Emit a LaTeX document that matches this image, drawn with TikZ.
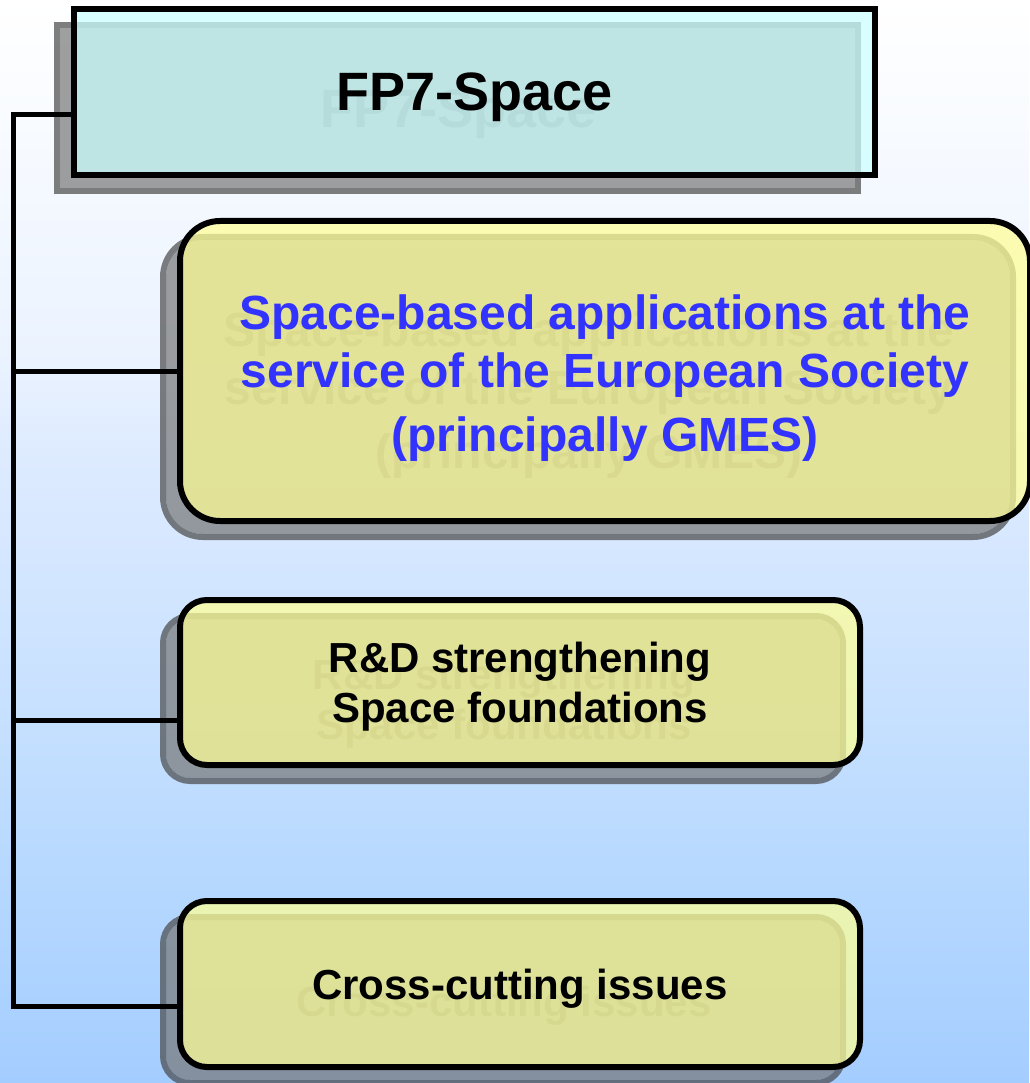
\documentclass[tikz,border=0pt]{standalone}
\usepackage{fontspec}
\setmainfont{Liberation Sans}
\definecolor{bgA}{RGB}{164,205,255}
\definecolor{bgB}{RGB}{180,215,255}
\definecolor{bgC}{RGB}{200,225,255}
\definecolor{bgD}{RGB}{222,235,255}
\definecolor{bgE}{RGB}{235,243,255}
\definecolor{bgF}{RGB}{255,255,255}
\definecolor{shfill}{RGB}{119,119,119}
\definecolor{shring}{RGB}{72,72,72}
\definecolor{tealfill}{RGB}{203,255,255}
\definecolor{yelfill}{RGB}{255,255,150}
\definecolor{bluetext}{RGB}{51,51,255}
\pgfdeclareverticalshading{bgshade}{100bp}{color(0bp)=(bgA); color(25bp)=(bgA); color(33.45bp)=(bgB); color(42.7bp)=(bgC); color(54.2bp)=(bgD); color(58.8bp)=(bgE); color(75bp)=(bgF); color(100bp)=(bgF)}
\newcommand{\boxtwotext}{\rule{0pt}{48pt}Space-based applications at the\\service of the European Society\\[6pt](principally GMES)}
\newcommand{\boxthreetext}{\rule{0pt}{38pt}R\&D strengthening\\ Space foundations}
\begin{document}
\begin{tikzpicture}[x=1pt,y=-1pt,
  shadowring/.style={draw=shring, draw opacity=.7, line width=6pt},
  shadowfill/.style={fill=shfill, fill opacity=.7},
  flatbox/.style={rectangle, draw=black, line width=6pt, fill=tealfill, fill opacity=.726, text opacity=1, inner sep=0pt},
  roundbox/.style={rectangle, rounded corners=#1, draw=black, line width=6pt, fill=yelfill, fill opacity=.726, text opacity=1, inner sep=0pt, align=center},
  ghost/.style={inner sep=0pt, align=center, text=black, text opacity=.2},
  fonttop/.style={font=\bfseries\fontsize{54}{60}\selectfont, text depth=0pt},
  fontbig/.style={font=\bfseries\fontsize{48}{58}\selectfont},
  fontmid/.style={font=\bfseries\fontsize{42}{50}\selectfont},
  conn/.style={draw=black, line width=5pt, line join=miter}
]
\useasboundingbox (0,0) rectangle (1029,1083);
\shade[shading=bgshade] (0,0) rectangle (1029,1083);

% shadows
\path[shadowfill] (60,28) rectangle (855,188);
\path[shadowring] (57,25) rectangle (858,191);
\path[shadowfill, rounded corners=37] (166,240) rectangle (1010,534);
\path[shadowring, rounded corners=40] (163,237) rectangle (1013,537);
\path[shadowfill, rounded corners=24] (166,619) rectangle (840,778);
\path[shadowring, rounded corners=27] (163,616) rectangle (843,781);
\path[shadowfill, rounded corners=24] (166,920) rectangle (840,1080);
\path[shadowring, rounded corners=27] (163,917) rectangle (843,1083);

% ghost texts
\node[ghost, fonttop] (g1) at (458.5,109) {FP7-Space};
\node[ghost, fontbig] (g2) at (589,388) {\boxtwotext};
\node[ghost, fontmid] (g3) at (504,699.5) {\boxthreetext};
\node[ghost, fontmid, text depth=0pt] (g4) at (504,1001) {Cross-cutting issues};

% boxes
\node[flatbox, fonttop, minimum width=801pt, minimum height=166pt] (top) at (474.5,92) {FP7-Space};
\node[roundbox=40pt, fontbig, text=bluetext, minimum width=850pt, minimum height=300pt] (box2) at (605,371) {\boxtwotext};
\node[roundbox=27pt, fontmid, minimum width=680pt, minimum height=165pt] (box3) at (520,682.5) {\boxthreetext};
\node[roundbox=27pt, fontmid, text depth=0pt, minimum width=680pt, minimum height=166pt] (box4) at (520,984) {Cross-cutting issues};

% connectors
\coordinate (sp1) at (13,115);
\coordinate (sp2) at (13,371);
\coordinate (sp3) at (13,720);
\coordinate (sp4) at (13,1006);
\draw[conn] (top.west |- sp1) -- (sp1) -- (sp4) -- (box4.west |- sp4);
\draw[conn] (sp2) -- (box2.west |- sp2);
\draw[conn] (sp3) -- (box3.west |- sp3);
\end{tikzpicture}
\end{document}
